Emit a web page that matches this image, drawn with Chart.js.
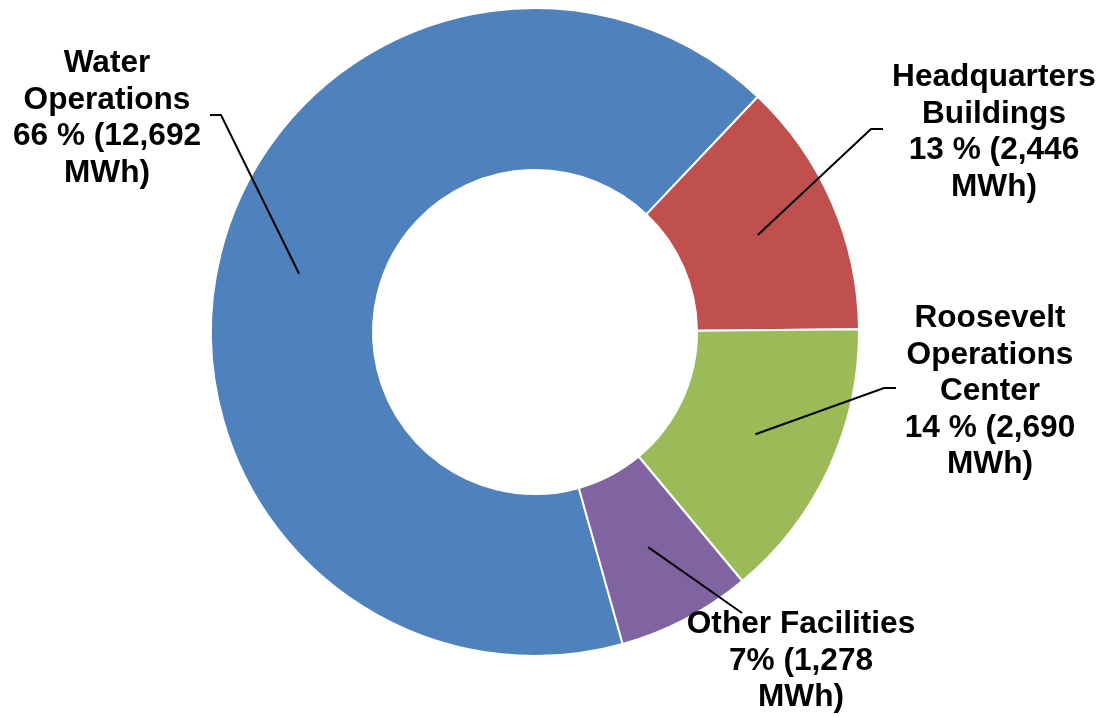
<!DOCTYPE html>
<html>
<head>
<meta charset="utf-8">
<script src="https://cdn.jsdelivr.net/npm/chart.js@4.4.1/dist/chart.umd.min.js"></script>
<style>
  html, body { margin: 0; padding: 0; background: #fff; }
  #wrap { width: 1106px; height: 717px; position: relative; }
</style>
</head>
<body>
<div id="wrap"><canvas id="energyChart" width="1106" height="717"></canvas></div>
<script>
// Electricity use by facility group (MWh)
const facilities = ['Water Operations', 'Headquarters Buildings', 'Roosevelt Operations Center', 'Other Facilities'];
const usageMWh = [12692, 2446, 2690, 1278];
const sliceColors = ['#4F81BD', '#C0504D', '#9BBB59', '#8064A2'];

// label text lines (name part) and the gap before the % sign
const nameLines = [
    ['Water', 'Operations'],
    ['Headquarters', 'Buildings'],
    ['Roosevelt', 'Operations', 'Center'],
    ['Other Facilities']
];
const pctGap = [' ', ' ', ' ', ''];

// where each label block sits: centre x, first baseline, and the leader elbow
const labelBoxes = [
    { x: 107, y: 72,  elbow: [[210, 115], [221, 115]] },
    { x: 994, y: 86,  elbow: [[883, 129], [871, 129]] },
    { x: 990, y: 327, elbow: [[896, 388], [884, 388]] },
    { x: 801, y: 633, elbow: [[742, 613]] }
];
const lineStep = 36.5;

const total = usageMWh.reduce((a, b) => a + b, 0);

function labelLines(i) {
    const pct = Math.round(usageMWh[i] / total * 100);
    const mwh = usageMWh[i].toLocaleString('en-US');
    return nameLines[i].concat([pct + pctGap[i] + '% (' + mwh, 'MWh)']);
}

const calloutPlugin = {
    id: 'callouts',
    afterDatasetsDraw(chart) {
        const ctx = chart.ctx;
        const arcs = chart.getDatasetMeta(0).data;
        ctx.save();
        // leader lines from the middle of each slice to its label
        ctx.strokeStyle = '#000';
        ctx.lineWidth = 2;
        arcs.forEach((arc, i) => {
            const p = arc.getCenterPoint(true);
            const pts = labelBoxes[i].elbow;
            ctx.beginPath();
            ctx.moveTo(pts[0][0], pts[0][1]);
            for (let k = 1; k < pts.length; k++) ctx.lineTo(pts[k][0], pts[k][1]);
            ctx.lineTo(p.x, p.y);
            ctx.stroke();
        });
        // label text
        ctx.fillStyle = '#000';
        ctx.font = 'bold 31px "Liberation Sans", Arial, sans-serif';
        ctx.textAlign = 'center';
        ctx.textBaseline = 'alphabetic';
        labelBoxes.forEach((box, i) => {
            labelLines(i).forEach((line, k) => {
                ctx.save();
                ctx.translate(box.x, box.y + k * lineStep);
                ctx.scale(1.02, 1);
                ctx.fillText(line, 0, 0);
                ctx.restore();
            });
        });
        ctx.restore();
    }
};

new Chart(document.getElementById('energyChart'), {
    type: 'doughnut',
    data: {
        labels: facilities,
        datasets: [{
            data: usageMWh,
            backgroundColor: sliceColors,
            borderColor: '#FFFFFF',
            borderWidth: 2
        }]
    },
    options: {
        responsive: false,
        animation: false,
        cutout: '50%',
        rotation: 164.3,
        layout: { padding: { left: 210, right: 246, top: 7, bottom: 60 } },
        plugins: {
            legend: { display: false },
            tooltip: { enabled: false }
        }
    },
    plugins: [calloutPlugin]
});
</script>
</body>
</html>
